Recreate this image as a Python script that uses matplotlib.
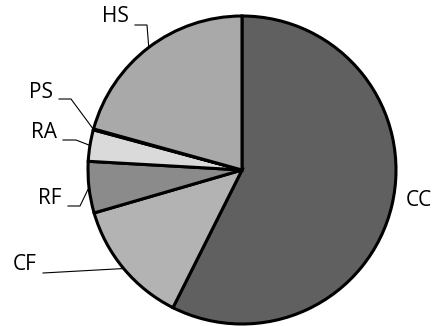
import numpy as np
import matplotlib.pyplot as plt

plt.rcParams['font.family'] = ['Open Sans', 'DejaVu Sans']

# Anteile (Prozent), im Uhrzeigersinn ab 12 Uhr
labels = ['CC', 'CF', 'RF', 'RA', 'PS', 'HS']
values = [57.4, 13.1, 5.4, 3.3, 0.1, 20.7]
colors = ['#606060', '#b3b3b3', '#8b8b8b', '#dadada', '#c8c8c8', '#a9a9a9']

# Beschriftungen: Textmitte, Anfang der Führungslinie, Knick (Pixel, y nach oben)
text_pos = {'CC': (419, 126), 'CF': (25, 61), 'RF': (50, 128),
            'RA': (44, 194), 'PS': (41, 234), 'HS': (115, 309)}
leader_start = {'CF': (43, 53), 'RF': (68, 120), 'RA': (63, 186),
                'PS': (59, 227), 'HS': (135, 301)}
leader_knee = {'CF': None, 'RF': (80, 120), 'RA': (76, 186),
               'PS': (71, 227), 'HS': (147, 301)}

center = (242, 156)
radius = 154

fig = plt.figure(figsize=(4.36, 3.26), dpi=100)
ax = fig.add_axes([0, 0, 1, 1])

wedges, _ = ax.pie(values, colors=colors, startangle=90, counterclock=False,
                   center=center, radius=radius,
                   wedgeprops=dict(edgecolor='black', linewidth=2.2))

# pie() setzt eigene Grenzen, daher danach
ax.set_xlim(0, 436)
ax.set_ylim(0, 326)
ax.set_aspect('equal')
ax.axis('off')

for w, lab in zip(wedges, labels):
    tx, ty = text_pos[lab]
    ax.text(tx, ty, lab, ha='center', va='center', fontsize=15, color='black')
    if lab in leader_start:
        mid = np.deg2rad((w.theta1 + w.theta2) / 2)
        ex = center[0] + radius * np.cos(mid)
        ey = center[1] + radius * np.sin(mid)
        pts = [leader_start[lab]]
        if leader_knee[lab] is not None:
            pts.append(leader_knee[lab])
        pts.append((ex, ey))
        xs, ys = zip(*pts)
        ax.plot(xs, ys, color='black', linewidth=0.8, zorder=0.5)

fig.savefig('out.png', dpi=100)
